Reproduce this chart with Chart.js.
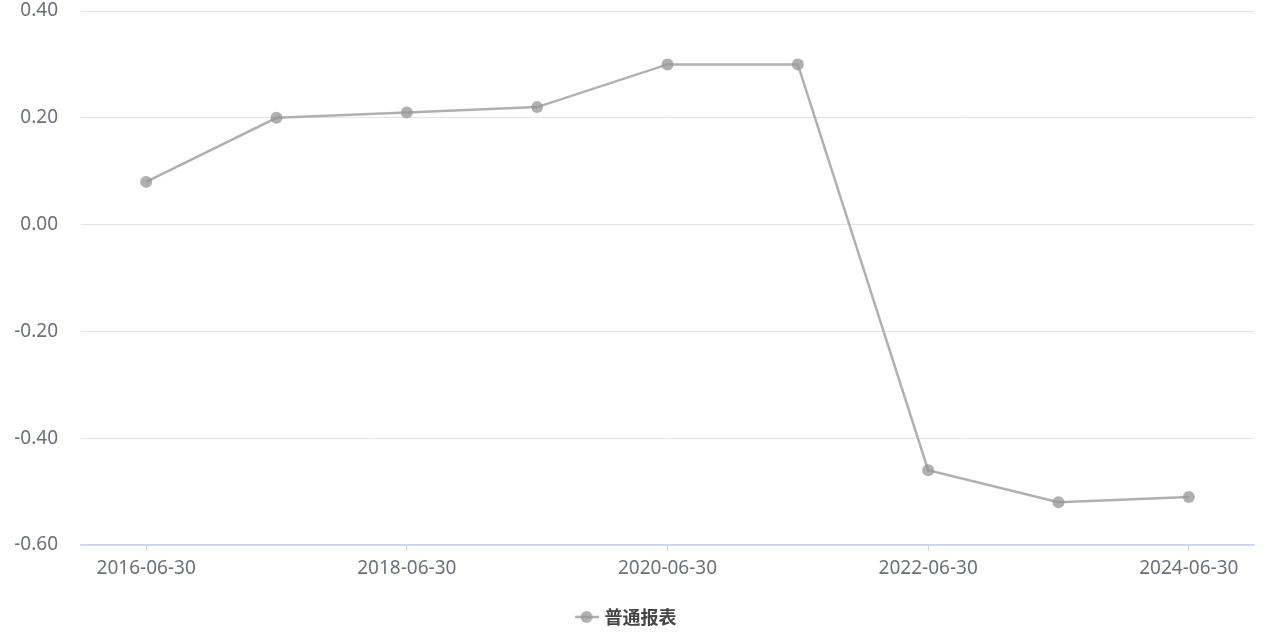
<!DOCTYPE html>
<html>
<head>
<meta charset="utf-8">
<script src="https://cdn.jsdelivr.net/npm/chart.js@4"></script>
<style>
  html, body { margin:0; padding:0; background:#fff; }
  #wrap { width:1269px; height:640px; position:relative; }
</style>
</head>
<body>
<div id="wrap"><canvas id="c"></canvas></div>
<script>
const labels = ['2016-06-30','2017-06-30','2018-06-30','2019-06-30','2020-06-30','2021-06-30','2022-06-30','2023-06-30','2024-06-30'];
const values = [0.08, 0.20, 0.21, 0.22, 0.30, 0.30, -0.46, -0.52, -0.51];
const seriesName = '普通报表';
const yMin = -0.6, yMax = 0.4, yStep = 0.2;

const lineColor = '#b0b0b0';
const pointColor = 'rgba(150,150,150,0.75)';
const font = '"Noto Sans", "Noto Sans CJK SC", sans-serif';

// legend icon: short line with a dot in the middle
const icon = document.createElement('canvas');
icon.width = 24; icon.height = 14;
(() => {
  const g = icon.getContext('2d');
  g.strokeStyle = lineColor; g.lineWidth = 2.5;
  g.beginPath(); g.moveTo(0,7); g.lineTo(24,7); g.stroke();
  g.fillStyle = pointColor;
  g.beginPath(); g.arc(12,7,6,0,Math.PI*2); g.fill();
})();

new Chart(document.getElementById('c'), {
  type:'line',
  data:{
    labels,
    datasets:[{
      label: seriesName,
      data: values,
      borderColor: lineColor,
      borderWidth: 2.5,
      backgroundColor: pointColor,
      pointBackgroundColor: pointColor,
      pointBorderWidth: 0,
      pointRadius: 6,
      tension: 0
    }]
  },
  options:{
    responsive:true,
    maintainAspectRatio:false,
    animation:false,
    layout:{padding:{top:11, right:15, left:0, bottom:4}},
    plugins:{
      tooltip:{enabled:false},
      legend:{
        position:'bottom',
        labels:{
          color:'#464646',
          boxWidth:30,
          font:{family:'"Noto Sans CJK SC", sans-serif', size:18, weight:'bold'},
          usePointStyle:true,
          generateLabels: ch => [{
            text: seriesName, pointStyle: icon, fontColor:'#464646',
            hidden:false, datasetIndex:0, lineWidth:0
          }]
        }
      }
    },
    scales:{
      x:{
        offset:true,
        grid:{offset:false, drawOnChartArea:false, drawTicks:true, tickLength:6,
              tickColor: ctx => ctx.index % 2 === 0 ? '#ccd6eb' : 'rgba(0,0,0,0)'},
        border:{color:'#ccd6eb', width:1.5},
        ticks:{autoSkip:false, maxRotation:0, color:'#6e7079', padding:6,
               font:{family:font, size:19},
               callback:(v,i)=> i % 2 === 0 ? labels[i] : ''},
        afterFit: s => { s.height = 53; s.paddingLeft = 0; s.paddingRight = 0; }
      },
      y:{
        min:yMin, max:yMax,
        grid:{color:'#e3e3e3', drawTicks:false, lineWidth:1},
        border:{display:false},
        ticks:{stepSize:yStep, color:'#6e7079', padding:23,
               font:{family:font, size:19},
               callback:v => Number(v).toFixed(2)},
        afterFit: s => { s.width = 81; s.paddingTop = 0; s.paddingBottom = 0; }
      }
    }
  }
});
</script>
</body>
</html>
